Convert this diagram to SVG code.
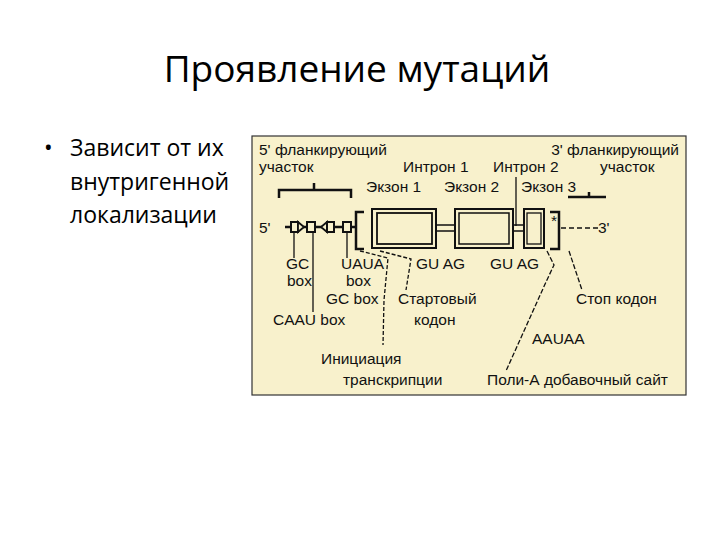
<svg xmlns="http://www.w3.org/2000/svg" width="720" height="540" viewBox="0 0 720 540">
<style>
.t{font-family:"Open Sans","Liberation Sans",sans-serif;fill:#000}
.f{font-family:"Liberation Sans",Arial,sans-serif;font-size:15.5px;fill:#111}
.l{stroke:#111;stroke-width:1.3;fill:none}
.b{stroke:#111;stroke-width:2.5;fill:none}
</style>
<rect width="720" height="540" fill="#fff"/>
<text class="t" x="357" y="82" font-size="37" text-anchor="middle">Проявление мутаций</text>
<g id="bullet">
<text class="t" x="44" y="156" font-size="23">•</text>
<text class="t" x="70" y="156" font-size="23">Зависит от их</text>
<text class="t" x="70" y="190" font-size="23">внутригенной</text>
<text class="t" x="70" y="223" font-size="23">локализации</text>
</g>
<g id="figure">
<rect x="252" y="136" width="434" height="259" fill="#f8f1cc" stroke="#333" stroke-width="1.2"/>
<text class="f" x="259" y="155">5' фланкирующий</text>
<text class="f" x="259" y="172">участок</text>
<text class="f" x="679" y="155" text-anchor="end">3' фланкирующий</text>
<text class="f" x="403" y="172">Интрон 1</text>
<text class="f" x="493" y="172">Интрон 2</text>
<text class="f" x="600" y="172">участок</text>
<text class="f" x="366" y="192">Экзон 1</text>
<text class="f" x="444" y="192">Экзон 2</text>
<text class="f" x="521" y="192">Экзон 3</text>
<path class="b" d="M279 198V190H351V198M314 190V183" stroke-width="2"/>
<path class="b" d="M568 197H606M589 197V192" stroke-width="2"/>
<path class="l" d="M516 177V226" stroke-width="1"/>
<text class="f" x="259" y="233">5'</text>
<path class="b" d="M285 227H355" stroke-width="2"/>
<rect x="291" y="222" width="7" height="10" fill="#f8f1cc" stroke="#111" stroke-width="2"/>
<path d="M298 222L304 227L298 232Z" fill="#f8f1cc" stroke="#111" stroke-width="1.8"/>
<rect x="307" y="222" width="8" height="10" fill="#f8f1cc" stroke="#111" stroke-width="2"/>
<path d="M327 222L321 227L327 232Z" fill="#f8f1cc" stroke="#111" stroke-width="1.8"/>
<rect x="327" y="222" width="7" height="10" fill="#f8f1cc" stroke="#111" stroke-width="2"/>
<rect x="343" y="222" width="8" height="10" fill="#f8f1cc" stroke="#111" stroke-width="2"/>
<path class="b" d="M364 212H356V249H364"/>
<path class="b" d="M550 212H559V249H550"/>
<rect x="372" y="209" width="64" height="39" fill="none" stroke="#111" stroke-width="2"/>
<rect x="377" y="213" width="55" height="31" fill="none" stroke="#111" stroke-width="1.8"/>
<path class="l" d="M436 225H455M436 231H455M513 225H524M513 231H524"/>
<rect x="455" y="209" width="58" height="39" fill="none" stroke="#111" stroke-width="2"/>
<rect x="459" y="213" width="50" height="31" fill="none" stroke="#111" stroke-width="1.5"/>
<rect x="524" y="209" width="20" height="39" fill="none" stroke="#111" stroke-width="2"/>
<rect x="527" y="213" width="14" height="31" fill="none" stroke="#111" stroke-width="1.3"/>
<text class="f" x="551" y="226">*</text>
<path class="l" d="M561 228H598" stroke-dasharray="5,3" stroke-width="1.6"/>
<text class="f" x="598" y="233">3'</text>
<text class="f" x="286" y="269">GC</text>
<text class="f" x="287" y="286">box</text>
<text class="f" x="341" y="269">UAUA</text>
<text class="f" x="346" y="286">box</text>
<text class="f" x="326" y="304">GC box</text>
<text class="f" x="273" y="325">CAAU box</text>
<text class="f" x="416" y="269">GU  AG</text>
<text class="f" x="490" y="269">GU AG</text>
<text class="f" x="398" y="304">Стартовый</text>
<text class="f" x="414" y="325">кодон</text>
<text class="f" x="576" y="304">Стоп кодон</text>
<text class="f" x="532" y="344">AAUAA</text>
<text class="f" x="321" y="364">Инициация</text>
<text class="f" x="343" y="385">транскрипции</text>
<text class="f" x="487" y="385">Поли-А добавочный сайт</text>
</g>
<g id="connectors" class="l" stroke-width="1">
<path d="M294 233V258"/>
<path d="M313 233V312"/>
<path d="M347 233V258"/>
<path d="M360 251L388 258L384 300L383 345" stroke-dasharray="4,2"/>
<path d="M380 251L411 259L406 290" stroke-dasharray="4,2"/>
<path d="M547 251L554 265L546 282L506 371" stroke-dasharray="5,2"/>
<path d="M569 251L582 290" stroke-dasharray="5,2"/>
</g>
</svg>
